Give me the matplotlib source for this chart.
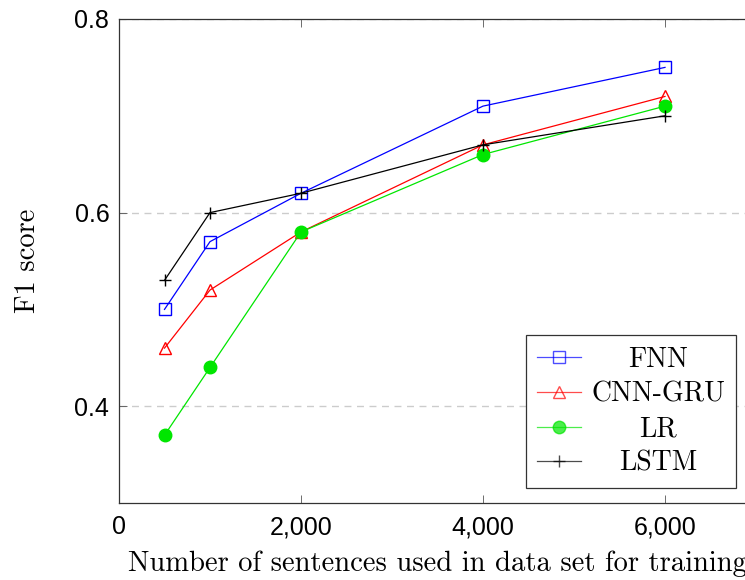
import matplotlib
matplotlib.use("Agg")
import matplotlib.pyplot as plt
from matplotlib.ticker import FuncFormatter

sizes = [500, 1000, 2000, 4000, 6000]
fnn = [0.50, 0.57, 0.62, 0.71, 0.75]
cnn_gru = [0.46, 0.52, 0.58, 0.67, 0.72]
lr = [0.37, 0.44, 0.58, 0.66, 0.71]
lstm = [0.53, 0.60, 0.62, 0.67, 0.70]
xticks = [0, 2000, 4000, 6000]
yticks = [0.4, 0.6, 0.8]

serif = ['cmr10', 'DejaVu Serif']
plt.rcParams['axes.formatter.use_mathtext'] = True

fig = plt.figure(figsize=(7.45, 5.8), dpi=100)
ax = fig.add_axes([119/745, 1-503/580, (756-119)/745, (503-19)/580])

ax.plot(sizes, fnn, color='blue', lw=0.9, marker='s', ms=8, mfc='none', mec='blue', mew=1.0, label='FNN')
ax.plot(sizes, cnn_gru, color='red', lw=0.9, marker='^', ms=8, mfc='none', mec='red', mew=1.0, label='CNN-GRU')
ax.plot(sizes, lr, color='#00e600', lw=0.9, marker='o', ms=9, mfc='#00e600', mec='#00e600', label='LR')
ax.plot(sizes, lstm, color='black', lw=0.9, marker='+', ms=9, mew=1.0, label='LSTM')

ax.set_xlim(0, 7000)
ax.set_ylim(0.3, 0.8)
ax.set_xticks(xticks)
ax.set_yticks(yticks)
ax.xaxis.set_major_formatter(FuncFormatter(lambda v, p: f"{int(v):,}"))
ax.yaxis.set_major_formatter(FuncFormatter(lambda v, p: f"{v:.1f}"))
ax.tick_params(direction='in', top=True, right=True, length=6, width=0.6,
               color='#555555', labelsize=18)
for lab in ax.get_xticklabels() + ax.get_yticklabels():
    lab.set_family('Liberation Sans')
ax.tick_params(axis='x', pad=9)
ax.tick_params(axis='y', pad=7)
ax.grid(axis='y', ls=(0, (5, 4)), color='#cccccc', lw=1.0)
ax.set_axisbelow(True)
for s in ax.spines.values():
    s.set_linewidth(0.9)
    s.set_color('#333333')

ax.set_xlabel('Number of sentences used in data set for training', fontsize=20.6, family=serif, labelpad=8)
ax.set_ylabel('F1 score', fontsize=20.5, family=serif, labelpad=24)

leg = ax.legend(loc='lower right', bbox_to_anchor=((736-119)/(756-119), (503-488)/484),
                frameon=True, fancybox=False, edgecolor='#333333', framealpha=1,
                prop={'family': serif, 'size': 20}, handlelength=1.6, borderpad=0.4,
                labelspacing=0.3, handletextpad=0.35, borderaxespad=0)
leg.get_frame().set_linewidth(0.9)
for h in leg.get_lines():
    h.set_alpha(0.7)

# center legend labels within the text column
fig.canvas.draw()
texts = leg.get_texts()
widths = [t.get_window_extent().width for t in texts]
wmax = max(widths)
for t, w in zip(texts, widths):
    t.set_position(((wmax - w) / 2, 0))

fig.savefig('out.png', dpi=100)
